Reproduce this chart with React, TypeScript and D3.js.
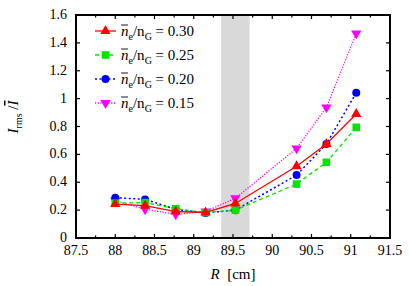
import * as d3 from "d3";
import { useEffect, useRef } from "react";

// 측정 위치 R [cm]
const radius = [88.0, 88.38, 88.77, 89.15, 89.53, 90.31, 90.69, 91.07];
// 밀도별 I_rms / I
const ratio030 = [0.243, 0.232, 0.19, 0.183, 0.248, 0.515, 0.675, 0.89];
const ratio025 = [0.25, 0.254, 0.21, 0.182, 0.2, 0.387, 0.543, 0.794];
const ratio020 = [0.289, 0.277, 0.206, 0.18, 0.2, 0.452, 0.674, 1.042];
const ratio015 = [0.268, 0.206, 0.17, 0.19, 0.285, 0.643, 0.937, 1.468];
const densityLabels = ["0.30", "0.25", "0.20", "0.15"];
const shadedBand = [89.35, 89.71];
const xTicks = [87.5, 88, 88.5, 89, 89.5, 90, 90.5, 91, 91.5];
const yTicks = [0, 0.2, 0.4, 0.6, 0.8, 1, 1.2, 1.4, 1.6];

const FONT = '"Liberation Serif", "DejaVu Serif", "Times New Roman", serif';

export default function App() {
  const svgRef = useRef<SVGSVGElement>(null);

  useEffect(() => {
    if (!svgRef.current) return;
    const root = d3.select(svgRef.current);
    root.selectAll("*").remove();

    const width = 409;
    const height = 286;
    const left = 76;
    const right = 390;
    const top = 15;
    const bottom = 238;

    const x = d3.scaleLinear().domain([87.5, 91.5]).range([left, right]);
    const y = d3.scaleLinear().domain([0, 1.6]).range([bottom, top]);

    root.attr("width", width).attr("height", height);
    root.append("rect").attr("width", width).attr("height", height).attr("fill", "#fff");

    // 회색 영역
    root
      .append("rect")
      .attr("x", x(shadedBand[0]))
      .attr("y", top)
      .attr("width", x(shadedBand[1]) - x(shadedBand[0]))
      .attr("height", bottom - top)
      .attr("fill", "#d9d9d9");

    // 시리즈 설정
    const series = [
      { values: ratio030, color: "#ff0000", dash: null, width: 1.3, marker: "triUp" },
      { values: ratio025, color: "#00e600", dash: "4,3", width: 1.3, marker: "square" },
      { values: ratio020, color: "#0000ff", dash: "2,2.5", width: 1.5, marker: "circle" },
      { values: ratio015, color: "#ff00ff", dash: "1.2,1.5", width: 1.3, marker: "triDown" },
    ];

    const line = d3
      .line<number>()
      .x((d, i) => x(radius[i]))
      .y((d) => y(d));

    const drawMarker = (
      g: d3.Selection<SVGGElement, unknown, null, undefined>,
      kind: string,
      cx: number,
      cy: number,
      color: string,
    ) => {
      if (kind === "circle") {
        g.append("circle").attr("cx", cx).attr("cy", cy).attr("r", 4).attr("fill", color);
      } else if (kind === "square") {
        g.append("rect")
          .attr("x", cx - 3.8)
          .attr("y", cy - 3.8)
          .attr("width", 7.6)
          .attr("height", 7.6)
          .attr("fill", color);
      } else {
        const sym = d3.symbol().type(d3.symbolTriangle).size(46)();
        g.append("path")
          .attr("d", sym)
          .attr(
            "transform",
            kind === "triUp"
              ? `translate(${cx},${cy})`
              : `translate(${cx},${cy}) rotate(180)`,
          )
          .attr("fill", color);
      }
    };

    const plot = root.append("g");
    // 뒤에서부터 그리기 (0.30이 위로)
    [...series].reverse().forEach((s) => {
      const g = plot.append("g");
      g.append("path")
        .datum(s.values)
        .attr("d", line)
        .attr("fill", "none")
        .attr("stroke", s.color)
        .attr("stroke-width", s.width)
        .attr("stroke-dasharray", s.dash);
      s.values.forEach((v, i) => drawMarker(g, s.marker, x(radius[i]), y(v), s.color));
    });

    // 축 테두리
    const axisG = root.append("g").attr("stroke", "#000");
    const minorX = d3.range(87.5, 91.51, 0.25);
    minorX.forEach((t) => {
      const major = Math.abs((t * 2) % 1) < 1e-6;
      const len = major ? 4 : 2.5;
      axisG.append("line").attr("x1", x(t)).attr("x2", x(t)).attr("y1", bottom).attr("y2", bottom - len).attr("stroke-width", 1.2);
      axisG.append("line").attr("x1", x(t)).attr("x2", x(t)).attr("y1", top).attr("y2", top + len).attr("stroke-width", 1.2);
    });
    yTicks.forEach((t) => {
      axisG.append("line").attr("x1", left).attr("x2", left + 4).attr("y1", y(t)).attr("y2", y(t)).attr("stroke-width", 1.2);
      axisG.append("line").attr("x1", right).attr("x2", right - 4).attr("y1", y(t)).attr("y2", y(t)).attr("stroke-width", 1.2);
    });
    axisG
      .append("rect")
      .attr("x", left)
      .attr("y", top)
      .attr("width", right - left)
      .attr("height", bottom - top)
      .attr("fill", "none")
      .attr("stroke-width", 2);

    // 눈금 라벨
    root
      .selectAll(".xTick")
      .data(xTicks)
      .enter()
      .append("text")
      .attr("class", "xTick")
      .attr("x", (d) => x(d))
      .attr("y", 255)
      .attr("text-anchor", "middle")
      .style("font-family", FONT)
      .style("font-size", "14px")
      .text((d) => String(d));

    root
      .selectAll(".yTick")
      .data(yTicks)
      .enter()
      .append("text")
      .attr("class", "yTick")
      .attr("x", 67)
      .attr("y", (d) => y(d) + 4)
      .attr("text-anchor", "end")
      .style("font-family", FONT)
      .style("font-size", "14px")
      .text((d) => String(d));

    // x축 제목
    const xl = root
      .append("text")
      .attr("x", 233)
      .attr("y", 279)
      .attr("text-anchor", "middle")
      .style("font-family", FONT)
      .style("font-size", "15px");
    xl.append("tspan").style("font-style", "italic").text("R");
    xl.append("tspan").text("\u00a0\u00a0[cm]");

    // y축 제목
    const yl = root
      .append("text")
      .attr("transform", "translate(18,117) rotate(-90)")
      .attr("text-anchor", "middle")
      .style("font-family", FONT)
      .style("font-size", "15px");
    yl.append("tspan").style("font-style", "italic").text("I");
    yl.append("tspan").attr("dy", 4).style("font-size", "10px").text("rms");
    yl.append("tspan").attr("dy", -4).text("\u00a0/");
    yl.append("tspan")
      .style("font-style", "italic")
      .style("text-decoration", "overline")
      .text("I");

    // 범례
    const legend = root.append("g");
    series.forEach((s, i) => {
      const cy = 31 + i * 24;
      const g = legend.append("g");
      g.append("line")
        .attr("x1", 95)
        .attr("x2", 116)
        .attr("y1", cy)
        .attr("y2", cy)
        .attr("stroke", s.color)
        .attr("stroke-width", s.width)
        .attr("stroke-dasharray", s.dash);
      drawMarker(g, s.marker, 105.5, cy, s.color);
      const t = g
        .append("text")
        .attr("x", 121)
        .attr("y", cy + 5)
        .style("font-family", FONT)
        .style("font-size", "15px");
      t.append("tspan").style("font-style", "italic").text("n");
      t.append("tspan").attr("dy", 4).style("font-size", "10px").text("e");
      t.append("tspan").attr("dy", -4).text("/n");
      t.append("tspan").attr("dy", 4).style("font-size", "10px").text("G");
      t.append("tspan").attr("dy", -4).text(` = ${densityLabels[i]}`);
      g.append("line")
        .attr("x1", 121)
        .attr("x2", 128)
        .attr("y1", cy - 6)
        .attr("y2", cy - 6)
        .attr("stroke", "#000")
        .attr("stroke-width", 0.9);
    });
  }, []);

  return <svg ref={svgRef} style={{ position: "absolute", left: 0, top: 0 }}></svg>;
}
